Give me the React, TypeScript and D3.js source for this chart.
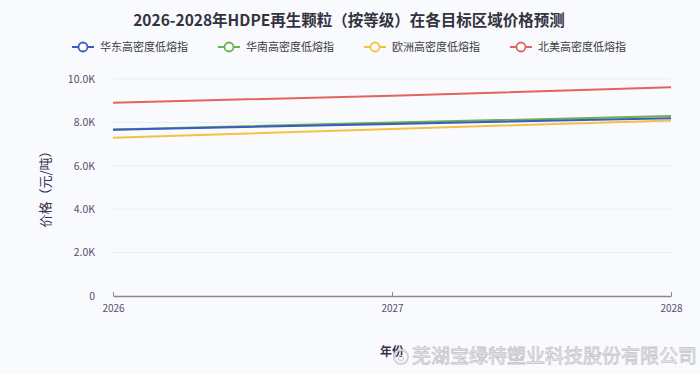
import React, { useEffect, useRef } from 'react';
import * as d3 from 'd3';

const years = [2026, 2027, 2028];
const seriesNames = ['华东高密度低熔指', '华南高密度低熔指', '欧洲高密度低熔指', '北美高密度低熔指'];
const eastChina = [7660, 7930, 8190];
const southChina = [7670, 7990, 8290];
const europe = [7290, 7700, 8090];
const northAmerica = [8910, 9230, 9620];
const yTicks = [0, 2000, 4000, 6000, 8000, 10000];
const colors = ['#3a5cc0', '#6cb24e', '#f4c243', '#e2645f'];

const FONT = '"Noto Sans CJK SC", "Noto Sans", sans-serif';

const App = () => {
  const svgRef = useRef<SVGSVGElement>(null);

  useEffect(() => {
    const W = 700, H = 374;
    const svg = d3.select(svgRef.current).attr('width', W).attr('height', H);
    svg.selectAll('*').remove();

    svg.append('rect').attr('width', W).attr('height', H).attr('fill', '#f9fafd');

    const x = d3.scaleLinear().domain([2026, 2028]).range([113, 671]);
    const y = d3.scaleLinear().domain([0, 10000]).range([296, 79]);

    // title
    svg.append('text')
      .attr('x', 349).attr('y', 26)
      .attr('text-anchor', 'middle')
      .attr('font-family', FONT).attr('font-size', 15.5).attr('font-weight', 'bold')
      .attr('fill', '#333340')
      .text('2026-2028年HDPE再生颗粒（按等级）在各目标区域价格预测');

    // legend
    const legendX = [83, 229, 375, 521];
    seriesNames.forEach((name, i) => {
      const g = svg.append('g').attr('transform', `translate(${legendX[i]},47)`);
      g.append('line').attr('x1', -11).attr('x2', 11).attr('stroke', colors[i]).attr('stroke-width', 2);
      g.append('circle').attr('r', 4.5).attr('fill', '#fff').attr('stroke', colors[i]).attr('stroke-width', 1.8);
      g.append('text').attr('x', 17).attr('y', 4)
        .attr('font-family', FONT).attr('font-size', 11).attr('fill', '#3a3a44')
        .text(name);
    });

    // grid
    svg.append('g').selectAll('line')
      .data(yTicks.filter(d => d > 0))
      .enter().append('line')
      .attr('x1', 113).attr('x2', 671)
      .attr('y1', d => y(d)).attr('y2', d => y(d))
      .attr('stroke', '#e8ecf5').attr('stroke-width', 1);

    // y axis labels
    const yAxis = svg.append('g').attr('transform', 'translate(96,0)')
      .call(d3.axisLeft(y).tickValues(yTicks)
        .tickFormat(d => (+d === 0 ? '0' : (+d / 1000).toFixed(1) + 'K'))
        .tickSize(0));
    yAxis.select('.domain').remove();
    yAxis.selectAll('text')
      .attr('font-family', FONT).attr('font-size', 10.5).attr('fill', '#5b4e6e').attr('dx', 2);

    // x axis
    const xAxis = svg.append('g').attr('transform', 'translate(0,296)')
      .call(d3.axisBottom(x).tickValues(years).tickFormat(d3.format('d')).tickSize(4).tickSizeOuter(0));
    xAxis.select('.domain').attr('stroke', '#8a8a8a').attr('stroke-width', 1.5);
    xAxis.selectAll('.tick line').attr('stroke', '#8a8a8a').attr('y1', -4).attr('y2', 0);
    xAxis.selectAll('text')
      .attr('font-family', FONT).attr('font-size', 10).attr('fill', '#5b4e6e').attr('dy', '0.9em');

    // axis titles
    svg.append('text')
      .attr('transform', 'translate(50,186) rotate(-90)')
      .attr('text-anchor', 'middle')
      .attr('font-family', FONT).attr('font-size', 13).attr('fill', '#3c3050')
      .text('价格（元/吨）');
    svg.append('text')
      .attr('x', 392).attr('y', 356)
      .attr('text-anchor', 'middle')
      .attr('font-family', FONT).attr('font-size', 12).attr('font-weight', 'bold').attr('fill', '#3c3050')
      .text('年份');

    // lines
    const line = d3.line<number>().x((_, i) => x(years[i])).y(d => y(d));
    const allSeries = [eastChina, southChina, europe, northAmerica];
    [3, 2, 1, 0].forEach(i => {
      svg.append('path')
        .datum(allSeries[i])
        .attr('d', line)
        .attr('fill', 'none')
        .attr('stroke', colors[i])
        .attr('stroke-width', 2);
    });

    // watermark
    const wm = svg.append('g');
    wm.append('circle').attr('cx', 401).attr('cy', 357).attr('r', 7)
      .attr('fill', 'none').attr('stroke', '#d4d4d8').attr('stroke-width', 2);
    wm.append('circle').attr('cx', 401).attr('cy', 358).attr('r', 2.5)
      .attr('fill', 'none').attr('stroke', '#d4d4d8').attr('stroke-width', 1.2);
    wm.append('text')
      .attr('x', 412).attr('y', 363)
      .attr('font-family', FONT).attr('font-size', 19)
      .attr('fill', '#fbfbfc').attr('stroke', '#c4c4ca').attr('stroke-width', 0.8)
      .text('芜湖宝绿特塑业科技股份有限公司');
  }, []);

  return <svg ref={svgRef} style={{ position: 'absolute', left: 0, top: 0 }}></svg>;
};

export default App;
